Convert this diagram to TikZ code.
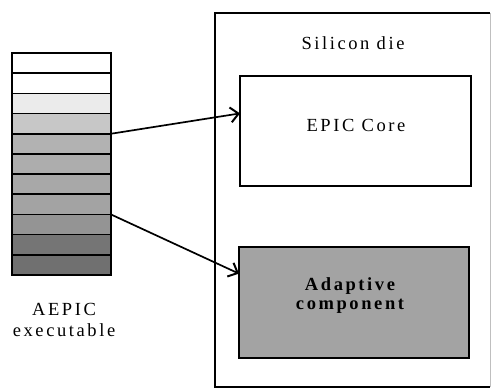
\documentclass[tikz,border=0pt]{standalone}
\usepackage{fontspec}
\setmainfont{Liberation Serif}
\newfontfamily\spaced[LetterSpace=14]{Liberation Serif}
\usetikzlibrary{arrows.meta,calc,positioning}
\begin{document}
\begin{tikzpicture}[x=1pt,y=-1pt,
  line width=1.6pt,
  row/.style={draw, line width=1.6pt, minimum width=99pt, minimum height=20.2pt,
              inner sep=0pt, outer sep=0pt, anchor=north west},
  block/.style={draw, line width=1.6pt, inner sep=0pt, outer sep=0pt, anchor=north west},
  label/.style={font=\spaced\fontsize{18.5}{21.5}\selectfont, align=center, inner sep=0pt},
  link/.style={-{Straight Barb[length=8pt,width=15pt,line width=2pt]}, line width=1.7pt}]
\useasboundingbox (0,0) rectangle (492,391);

% stacked instruction rows of the executable, shaded from light to dark
\foreach \i/\shade in {1/0,2/0,3/8,4/22,5/30,6/32,7/34,8/36,9/42,10/54,11/56} {
  \node[row, fill=black!\shade] (r\i) at (12, {53+(\i-1)*20.18}) {};
}
\draw[line width=2pt] (r1.north west) rectangle (r11.south east);

\node[label] (exe) at (64,320) {AEPIC\\executable};

% silicon die outline; its right edge is only faintly printed
\coordinate (dieNW) at (215,13);
\coordinate (dieNE) at (490,13);
\coordinate (dieSW) at (215,387);
\coordinate (dieSE) at (490,387);
\draw (dieNE) -- (dieNW) -- (dieSW) -- (dieSE);
\draw[black!25, line width=0.8pt] (dieNE) -- (dieSE);
\node[label, anchor=base] (die) at (353,49) {Silicon die};

% the two blocks on the die
\node[block, minimum width=231pt, minimum height=110pt] (core) at (240,76) {};
\node[label, anchor=base] at (356,131) {EPIC Core};

\node[block, fill=black!36, minimum width=230pt, minimum height=111pt] (adapt) at (239,247) {};
\node[label, font=\spaced\bfseries\fontsize{18.5}{19}\selectfont] at (350,296) {Adaptive\\component};

% mapping of executable parts onto the die
\draw[link] (r4.south east) -- ($(core.north west)!0.34!(core.south west)$);
\draw[link] (r8.south east) -- ($(adapt.north west)!0.24!(adapt.south west)$);
\end{tikzpicture}
\end{document}
